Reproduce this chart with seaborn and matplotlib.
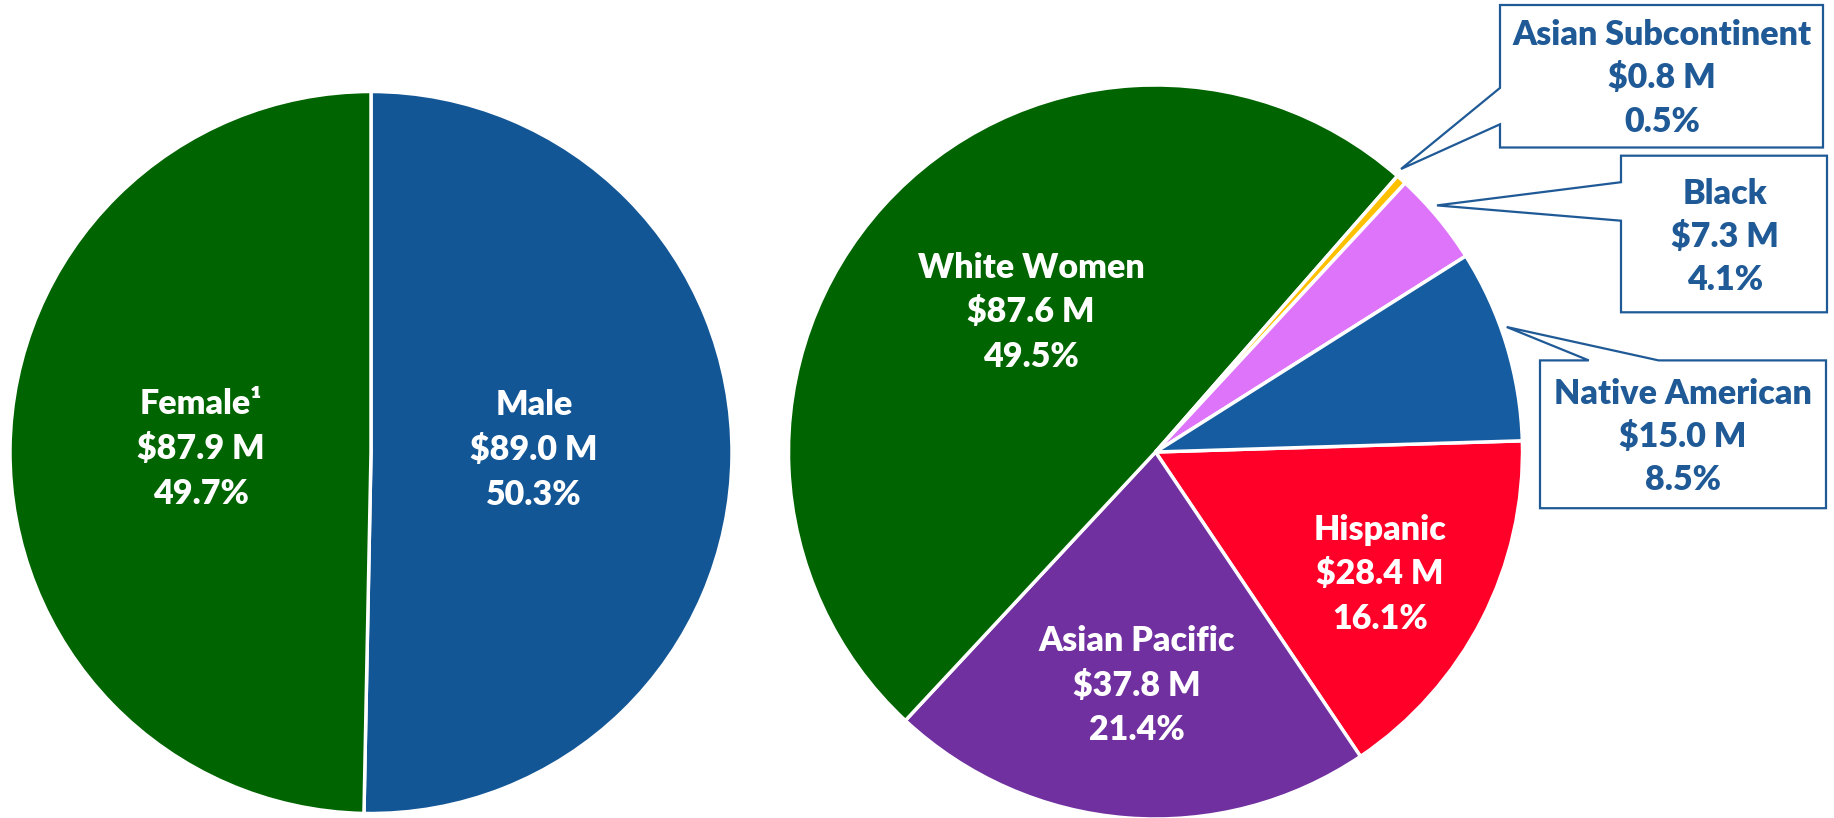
import matplotlib
matplotlib.use("Agg")
import matplotlib.pyplot as plt
import seaborn as sns
from matplotlib.patches import Polygon

# ---------------- data ----------------
gender_labels = ["Male", "Female\u00b9"]
gender_values = [89.0, 87.9]
gender_amounts = ["$89.0 M", "$87.9 M"]
gender_pcts = ["50.3%", "49.7%"]
gender_colors = ["#135696", "#006400"]

ethnic_labels = ["Hispanic", "Asian Pacific", "White Women",
                 "Asian Subcontinent", "Black", "Native American"]
ethnic_values = [28.4, 37.8, 87.6, 0.8, 7.3, 15.0]
ethnic_amounts = ["$28.4 M", "$37.8 M", "$87.6 M", "$0.8 M", "$7.3 M", "$15.0 M"]
ethnic_pcts = ["16.1%", "21.4%", "49.5%", "0.5%", "4.1%", "8.5%"]
ethnic_colors = ["#FF0029", "#7030A0", "#006400", "#FFC000", "#DE74F9", "#165CA0"]

# ---------------- style ----------------
sns.set_theme(style="white")
plt.rcParams["font.family"] = ["Lato", "DejaVu Sans"]

W, H = 1834, 818
fig = plt.figure(figsize=(W / 100, H / 100), dpi=100)
ax = fig.add_axes([0, 0, 1, 1])

def Y(py):
    return H - py

wedge_kw = dict(edgecolor="white", linewidth=2.5)

ax.pie(gender_values, colors=gender_colors, startangle=90, counterclock=False,
       center=(371, Y(452.5)), radius=361, wedgeprops=wedge_kw, frame=False)
ax.pie(ethnic_values, colors=ethnic_colors, startangle=1.75, counterclock=False,
       center=(1155.5, Y(452)), radius=367, wedgeprops=wedge_kw, frame=False)

ax.set_xlim(0, W)
ax.set_ylim(0, H)
ax.set_aspect("auto")
ax.axis("off")

WEIGHT = "heavy"

# ---------------- inside labels (white) ----------------
inside = {
    # label -> (x centre, first baseline, line step)
    "Male": (534, 415, 45),
    "Female\u00b9": (201, 414, 45),
    "White Women": (1031, 278, 44.5),
    "Asian Pacific": (1137, 651, 44.5),
    "Hispanic": (1380, 540, 44.5),
}
for labels, amounts, pcts in ((gender_labels, gender_amounts, gender_pcts),
                              (ethnic_labels, ethnic_amounts, ethnic_pcts)):
    for lab, amt, pct in zip(labels, amounts, pcts):
        if lab not in inside:
            continue
        x, y0, step = inside[lab]
        for i, t in enumerate((lab, amt, pct)):
            ax.text(x, Y(y0 + i * step), t, color="white", fontsize=24.5,
                    fontweight=WEIGHT, ha="center", va="baseline")

# ---------------- callouts ----------------
box_color = "#1F5A97"
callouts = {
    "Asian Subcontinent": dict(
        outline=[(1500, 5), (1823, 5), (1823, 147.5), (1500, 147.5),
                 (1500, 124.3), (1401, 169), (1500, 87.9)],
        text=(1662, 45, 43.5)),
    "Black": dict(
        outline=[(1621, 155.7), (1827, 155.7), (1827, 312.3), (1621, 312.3),
                 (1621, 220.7), (1437, 205.4), (1621, 182.2)],
        text=(1725, 204, 43)),
    "Native American": dict(
        outline=[(1540, 360.4), (1588.8, 360.4), (1506.7, 327), (1658.6, 360.4),
                 (1826, 360.4), (1826, 508.2), (1540, 508.2)],
        text=(1683, 404, 43)),
}
for lab, amt, pct in zip(ethnic_labels, ethnic_amounts, ethnic_pcts):
    if lab not in callouts:
        continue
    c = callouts[lab]
    pts = [(x, Y(y)) for x, y in c["outline"]]
    ax.add_patch(Polygon(pts, closed=True, facecolor="white",
                         edgecolor=box_color, linewidth=1.6, zorder=5))
    x, y0, step = c["text"]
    for i, t in enumerate((lab, amt, pct)):
        ax.text(x, Y(y0 + i * step), t, color=box_color, fontsize=24.5,
                fontweight=WEIGHT, ha="center", va="baseline", zorder=6)

fig.savefig("out.png", dpi=100, facecolor="white")
